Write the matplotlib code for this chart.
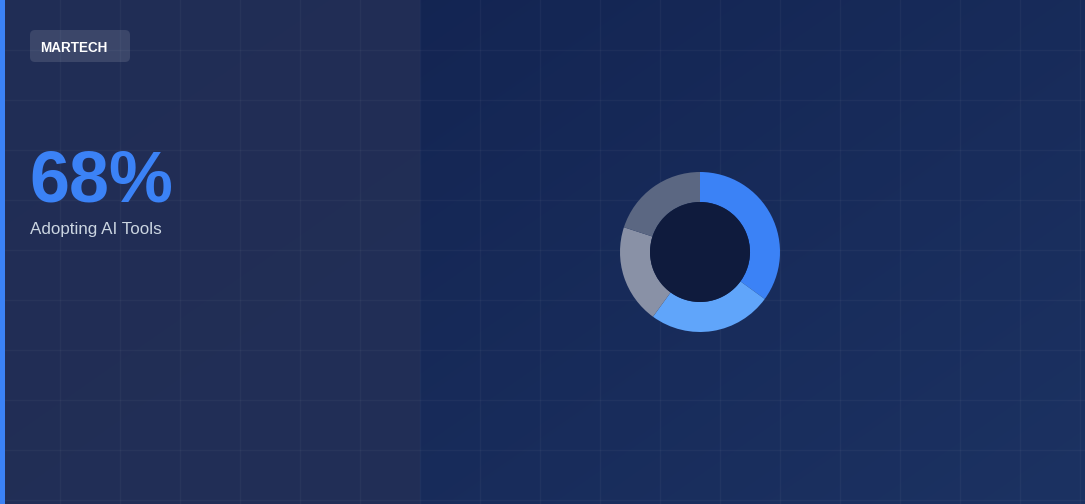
import numpy as np
import matplotlib.pyplot as plt
from matplotlib.patches import Rectangle, FancyBboxPatch, Circle

# data
badge_text = 'MARTECH'
stat_value = 68
stat_label = 'Adopting AI Tools'
share_values = [35, 25, 20, 20]
share_colors = ['#3b82f6', '#60a5fa', '#8991a6', '#5b6782']

W, H = 1085, 504
plt.rcParams['font.family'] = ['Liberation Sans', 'DejaVu Sans']

fig = plt.figure(figsize=(W / 100, H / 100), dpi=100)
ax = fig.add_axes([0, 0, 1, 1])
ax.set_xlim(0, W)
ax.set_ylim(H, 0)
ax.axis('off')

# background gradient (top-left darker, bottom-right lighter)
gx, gy = np.meshgrid(np.linspace(0, 1, W), np.linspace(0, 1, H))
t = (gx * 0.6 + gy * 0.4)
c0 = np.array([17, 33, 78]) / 255
c1 = np.array([28, 50, 98]) / 255
img = c0[None, None, :] * (1 - t[..., None]) + c1[None, None, :] * t[..., None]
ax.imshow(img, extent=[0, W, H, 0], aspect='auto', zorder=0, interpolation='bilinear')

# left panel overlay
ax.add_patch(Rectangle((0, 0), 420, H, facecolor='#232f56', alpha=0.88,
                       edgecolor='none', zorder=1))

# grid
for x in range(60, W, 60):
    ax.axvline(x, color='white', alpha=0.035, lw=1, zorder=2)
for y in range(50, H, 50):
    ax.axhline(y, color='white', alpha=0.035, lw=1, zorder=2)

# accent bar
ax.add_patch(Rectangle((0, 0), 5, H, facecolor='#3b82f6', edgecolor='none', zorder=3))

# badge
ax.add_patch(FancyBboxPatch((30, 30), 100, 32, boxstyle='round,pad=0,rounding_size=5',
                            facecolor='white', alpha=0.12, edgecolor='none', zorder=3))
ax.text(40, 47.5, badge_text, fontsize=13.5 * 0.72, fontweight='bold', color='white',
        va='center', ha='left', zorder=4)

# big stat
ax.text(29, 202, f'{stat_value}%', fontsize=72 * 0.72, fontweight='bold', color='#3b82f6',
        va='baseline', ha='left', zorder=4)
ax.text(30, 234, stat_label, fontsize=17 * 0.72, color='#cbd5e1',
        va='baseline', ha='left', zorder=4)

# donut
cx, cy, r = 700, 252, 80
dax = fig.add_axes([(cx - r) / W, (H - cy - r) / H, 2 * r / W, 2 * r / H])
dax.pie(share_values, colors=share_colors, startangle=90, counterclock=False,
        radius=1, wedgeprops=dict(width=30 / 80, edgecolor='none'))
dax.add_patch(Circle((0, 0), 50 / 80, facecolor='#0f1b3d', edgecolor='none', zorder=5))
dax.set_xlim(-1, 1)
dax.set_ylim(-1, 1)
dax.set_aspect('equal')
dax.axis('off')

fig.savefig('out.png', dpi=100)
